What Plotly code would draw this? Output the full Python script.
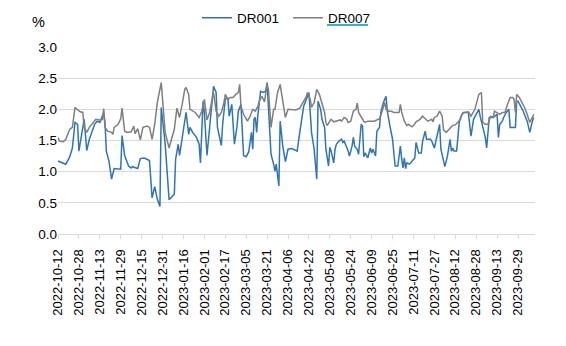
import pandas as pd
import plotly.graph_objects as go

START = "2022-10-12"

# DR001 (day offset since 2022-10-12, value %)
dr001_day = [0, 1, 3, 6, 9, 11, 13, 15, 16, 20, 22, 24, 28, 30, 32, 35, 36, 37, 39, 41, 43, 48, 49, 51,
             54, 56, 57, 61, 63, 66, 68, 70, 72, 74, 76, 78, 79, 82, 85, 87, 89, 90, 92, 93, 95, 97, 98,
             100, 101, 103, 106, 108, 109, 111, 112, 114, 116, 117, 119, 121, 122, 125, 126, 128, 130,
             131, 133, 135, 137, 138, 140, 142, 144, 146, 148, 149, 150, 151, 152, 153, 155, 157, 159,
             160, 162, 163, 165, 166, 167, 168, 169, 170, 172, 174, 176, 179, 181, 183, 185, 186, 188,
             190, 192, 194, 196, 198, 199, 201, 202, 204, 205, 207, 208, 209, 211, 212, 213, 215, 217,
             218, 219, 222, 223, 225, 226, 227, 229, 230, 232, 233, 234, 235, 237, 239, 240, 241, 243,
             244, 246, 247, 249, 251, 252, 254, 256, 257, 258, 260, 262, 263, 264, 265, 266, 267, 269,
             271, 273, 274, 276, 278, 279, 281, 282, 285, 286, 288, 290, 292, 293, 295, 296, 298, 300,
             301, 302, 303, 305, 306, 307, 308, 310, 314, 315, 316, 318, 320, 322, 323, 325, 327, 328,
             330, 333, 336, 337, 338, 340, 341, 343, 345, 346, 350, 351, 352, 354, 356, 359, 361, 363, 364]
dr001_val = [1.17, 1.16, 1.15, 1.12, 1.24, 1.38, 1.79, 1.76, 1.33, 1.84, 1.34, 1.52, 1.76, 1.81, 1.79,
             1.95, 1.76, 1.33, 1.17, 0.88, 1.05, 1.04, 1.58, 1.26, 1.09, 1.06, 1.08, 1.05, 1.21, 1.22,
             1.20, 1.18, 0.58, 0.76, 0.56, 0.44, 2.03, 1.45, 0.55, 0.59, 0.64, 1.20, 1.44, 1.26, 1.55,
             1.84, 1.95, 1.60, 1.71, 1.63, 1.55, 1.44, 1.14, 2.13, 1.95, 1.26, 1.68, 1.95, 2.37, 2.27,
             1.71, 1.42, 1.76, 2.16, 2.19, 1.89, 2.08, 1.44, 1.73, 1.97, 2.08, 1.26, 1.24, 1.32, 1.63,
             1.36, 1.84, 1.87, 1.63, 1.92, 2.29, 2.27, 2.29, 2.43, 1.57, 1.28, 1.12, 1.01, 1.12, 0.93,
             0.77, 1.81, 1.41, 1.16, 1.36, 1.37, 1.35, 1.33, 1.63, 1.76, 2.05, 2.16, 2.27, 1.63, 1.36,
             0.88, 2.13, 2.00, 1.84, 1.71, 1.36, 1.09, 1.39, 1.33, 1.14, 1.36, 1.44, 1.49, 1.52, 1.47,
             1.49, 1.33, 1.25, 1.41, 1.55, 1.41, 1.36, 1.28, 1.76, 1.73, 1.24, 1.30, 1.22, 1.38, 1.30,
             1.36, 1.25, 1.65, 1.71, 1.95, 2.11, 2.21, 1.97, 1.73, 1.52, 1.30, 1.09, 1.09, 1.41, 1.20,
             1.06, 1.22, 1.05, 1.14, 1.12, 1.17, 1.22, 1.47, 1.30, 1.30, 1.49, 1.65, 1.52, 1.52, 1.49,
             1.38, 1.57, 1.76, 1.36, 1.17, 1.08, 1.25, 1.52, 1.33, 1.38, 1.33, 1.33, 1.55, 1.79, 1.87,
             1.95, 1.95, 1.79, 1.57, 1.84, 1.92, 2.00, 1.89, 1.73, 1.55, 1.38, 1.87, 1.87, 1.92, 1.55,
             1.76, 1.81, 1.87, 1.95, 2.00, 1.71, 1.71, 2.13, 2.13, 2.05, 1.97, 1.81, 1.63, 1.81, 1.87]

# DR007 (day offset since 2022-10-12, value %)
dr007_day = [0, 1, 4, 6, 9, 11, 13, 15, 17, 19, 20, 22, 24, 27, 29, 32, 34, 35, 36, 38, 41, 42, 43, 46,
             48, 49, 51, 53, 56, 58, 59, 61, 63, 65, 68, 70, 72, 74, 76, 79, 80, 82, 85, 87, 89, 91, 93,
             95, 97, 98, 100, 101, 105, 108, 110, 112, 113, 114, 116, 118, 119, 121, 123, 125, 127, 128,
             130, 132, 134, 136, 138, 139, 140, 142, 143, 145, 147, 149, 151, 153, 154, 156, 158, 160,
             161, 162, 163, 165, 166, 168, 170, 172, 174, 176, 180, 182, 185, 186, 188, 190, 191, 193,
             194, 196, 197, 198, 200, 202, 204, 205, 206, 208, 209, 211, 213, 216, 217, 219, 221, 222,
             224, 226, 228, 229, 230, 232, 234, 235, 237, 240, 242, 245, 246, 248, 250, 251, 253, 255,
             257, 259, 261, 262, 263, 265, 267, 268, 270, 271, 272, 274, 277, 279, 281, 283, 285, 286,
             287, 288, 290, 292, 294, 295, 297, 299, 301, 302, 304, 306, 308, 309, 311, 314, 316, 319,
             320, 322, 324, 325, 327, 329, 331, 333, 334, 336, 338, 340, 342, 344, 346, 348, 349, 350,
             351, 353, 355, 357, 359, 361, 363, 364]
dr007_val = [1.55, 1.49, 1.48, 1.52, 1.68, 1.71, 2.03, 2.00, 1.96, 1.95, 1.71, 1.63, 1.71, 1.79, 1.84,
             1.83, 1.84, 2.01, 1.71, 1.65, 1.63, 1.60, 1.71, 1.76, 1.85, 2.02, 1.65, 1.63, 1.64, 1.73,
             1.61, 1.69, 1.51, 1.71, 1.73, 1.71, 1.52, 1.76, 2.11, 2.43, 2.16, 1.63, 1.38, 1.52, 1.68,
             2.02, 1.87, 2.08, 2.32, 2.35, 2.24, 2.00, 1.95, 1.87, 1.97, 2.16, 2.03, 1.83, 1.95, 2.16,
             2.27, 1.97, 1.89, 1.95, 2.11, 2.24, 2.16, 2.19, 2.19, 2.24, 2.27, 2.40, 2.05, 1.92, 1.89,
             1.81, 1.89, 2.00, 1.97, 2.05, 2.13, 2.21, 2.12, 2.40, 2.32, 1.95, 1.71, 2.00, 2.00, 2.27,
             2.40, 2.13, 1.87, 2.00, 2.00, 1.99, 2.02, 2.05, 2.13, 2.21, 2.27, 2.16, 2.03, 2.11, 2.21,
             2.32, 2.24, 2.08, 1.95, 1.79, 1.74, 1.81, 1.84, 1.80, 1.81, 1.83, 1.81, 1.87, 1.84, 1.79,
             1.81, 1.97, 2.00, 2.10, 1.95, 1.87, 1.81, 1.79, 1.81, 1.81, 1.81, 1.84, 1.84, 1.97, 2.11,
             2.00, 1.97, 1.97, 1.95, 1.95, 1.95, 2.08, 1.95, 1.81, 1.74, 1.76, 1.74, 1.72, 1.74, 1.80,
             1.84, 1.89, 1.85, 1.81, 1.83, 1.84, 1.80, 1.87, 1.89, 1.97, 1.89, 1.67, 1.63, 1.68, 1.73,
             1.74, 1.75, 1.79, 1.84, 1.92, 1.95, 1.96, 1.89, 2.00, 2.08, 2.24, 2.27, 1.79, 1.76, 1.76,
             1.89, 1.87, 1.97, 1.95, 1.92, 1.95, 1.95, 2.08, 2.19, 2.19, 2.16, 1.95, 2.24, 2.19, 2.11,
             2.03, 1.92, 1.79, 1.87, 1.92]

tick_labels = ["2022-10-12", "2022-10-28", "2022-11-13", "2022-11-29", "2022-12-15", "2022-12-31",
               "2023-01-16", "2023-02-01", "2023-02-17", "2023-03-05", "2023-03-21", "2023-04-06",
               "2023-04-22", "2023-05-08", "2023-05-24", "2023-06-09", "2023-06-25", "2023-07-11",
               "2023-07-27", "2023-08-12", "2023-08-28", "2023-09-13", "2023-09-29"]
y_ticks = [0.0, 0.5, 1.0, 1.5, 2.0, 2.5, 3.0]

start = pd.Timestamp(START)
x1 = start + pd.to_timedelta(dr001_day, unit="D")
x7 = start + pd.to_timedelta(dr007_day, unit="D")

fig = go.Figure()
fig.add_trace(go.Scatter(x=x1, y=dr001_val, mode="lines", name="DR001",
                         line=dict(color="#2e75b6", width=1.5)))
fig.add_trace(go.Scatter(x=x7, y=dr007_val, mode="lines", name="DR007",
                         line=dict(color="#7f7f7f", width=1.5)))

FONT = "Liberation Sans, Arial, sans-serif"
fig.update_layout(
    width=566, height=346,
    margin=dict(l=58, r=31, t=47, b=112, autoexpand=False),
    paper_bgcolor="white", plot_bgcolor="white",
    font=dict(family=FONT, size=13, color="#000000"),
    showlegend=True,
    legend=dict(orientation="h", xref="container", yref="container",
                x=197 / 566, xanchor="left", y=1 - 18 / 346, yanchor="middle",
                font=dict(size=13.5), bgcolor="rgba(0,0,0,0)", entrywidth=46,
                tracegroupgap=0, borderwidth=0),
    xaxis=dict(type="date", range=["2022-10-12", "2023-10-12"],
               tickvals=tick_labels, ticktext=tick_labels, tickangle=-90,
               showgrid=False, zeroline=False, showline=True, linecolor="#d9d9d9", linewidth=1,
               ticks="outside", ticklen=4, tickcolor="#d9d9d9", tickfont=dict(size=13),
               ticklabelstandoff=5),
    yaxis=dict(range=[0, 3], tickvals=y_ticks, tickformat=".1f", showgrid=True,
               gridcolor="#d9d9d9", gridwidth=1, zeroline=False, showline=False,
               ticks="", tickfont=dict(size=13.5)),
    annotations=[dict(text="%", xref="paper", yref="paper", x=-0.024, y=1.134,
                      xanchor="right", yanchor="middle", showarrow=False,
                      font=dict(size=14.5))],
    shapes=[dict(type="line", xref="paper", yref="paper", x0=0.564, x1=0.650,
                 y0=1.118, y1=1.118, line=dict(color="#2bb3cf", width=2))],
)

fig.write_html("out.html")
